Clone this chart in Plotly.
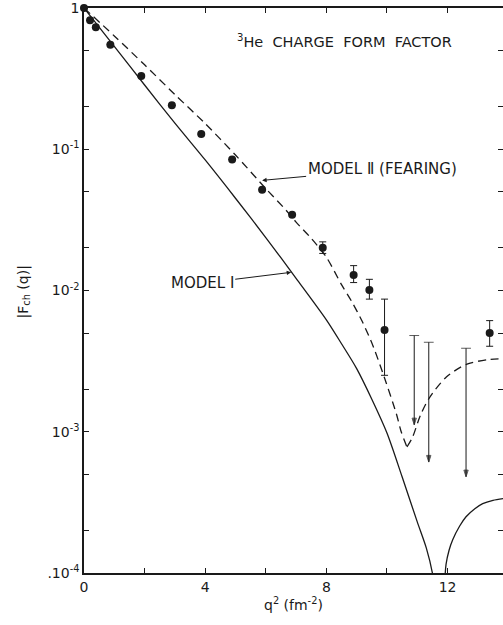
import numpy as np
import plotly.graph_objects as go

# Measured |F_ch| for 3He
q2_data = [0.0, 0.2, 0.39, 0.87, 1.89, 2.9, 3.87, 4.89, 5.88, 6.87, 7.88, 8.9, 9.42, 9.92, 13.39]
f_data = [1.0, 0.82, 0.73, 0.55, 0.33, 0.205, 0.128, 0.0845, 0.0517, 0.0344, 0.0201, 0.0129, 0.0101, 0.00525, 0.0050]
f_err_up = [0, 0, 0, 0, 0, 0, 0, 0, 0, 0, 0.0020, 0.0021, 0.0019, 0.00344, 0.00112]
f_err_dn = [0, 0, 0, 0, 0, 0, 0, 0, 0, 0, 0.0018, 0.00152, 0.00141, 0.00274, 0.00097]

# Upper limits (top of bar) and where the arrow stops
q2_lim = [10.9, 11.38, 12.61]
f_lim = [0.0048, 0.0043, 0.0039]
f_lim_arrow = [0.00112, 0.00061, 0.00048]

# Model I (solid), two lobes either side of the diffraction zero
q2_m1a = [0, 1, 2, 3, 4, 5, 6, 7, 8, 8.5, 9, 9.5, 10, 10.5, 11, 11.3, 11.5, 11.6]
f_m1a = [1.0, 0.535, 0.285, 0.153, 0.084, 0.045, 0.0237, 0.0122, 0.0062, 0.0042, 0.0028, 0.0017,
         0.00098, 0.00048, 0.00023, 0.00015, 0.0001, 0.00007]
q2_m1b = [11.9, 11.95, 12.05, 12.17, 12.4, 12.61, 12.9, 13.16, 13.5, 13.9]
f_m1b = [0.00008, 0.000115, 0.000145, 0.000172, 0.000215, 0.00025, 0.000285, 0.00031, 0.000327, 0.000338]

# Model II (Fearing), dashed
q2_m2 = [0, 1, 2, 3, 4, 5, 6, 6.67, 7, 7.5, 8, 8.5, 8.83, 9.19, 9.55, 9.92, 10.31, 10.47, 10.66,
         10.84, 11.1, 11.4, 11.96, 12.62, 13.38, 13.9]
f_m2 = [1.0, 0.634, 0.396, 0.244, 0.152, 0.091, 0.0527, 0.037, 0.0305, 0.0234, 0.0172, 0.011, 0.0084,
        0.0060, 0.0040, 0.0024, 0.00134, 0.00100, 0.00078, 0.00091, 0.0013, 0.00174, 0.00244,
        0.0030, 0.00325, 0.00329]

# Axis ticks
x_tickvals = [0, 2, 4, 6, 8, 10, 12]
x_ticktext = ["0", "", "4", "", "8", "", "12"]
y_tickvals = [m * 10.0 ** e for e in range(-4, 1) for m in (1, 2, 5) if m * 10.0 ** e <= 1]
y_labels = {1e-4: ".10<sup>-4</sup>", 1e-3: "10<sup>-3</sup>", 1e-2: "10<sup>-2</sup>",
            1e-1: "10<sup>-1</sup>", 1.0: "1"}
y_ticktext = [next((t for v, t in y_labels.items() if abs(np.log10(v) - np.log10(tv)) < 1e-6), "")
              for tv in y_tickvals]

INK = "#1a1a1a"
FONT = "DejaVu Sans"

fig = go.Figure()

curve = dict(color=INK, width=1.3, shape="spline", smoothing=0.8)
fig.add_trace(go.Scatter(x=q2_m1a, y=f_m1a, mode="lines", line=curve))
fig.add_trace(go.Scatter(x=q2_m1b, y=f_m1b, mode="lines", line=curve))

# Model II: split at its minimum so the cusp stays sharp
k = int(np.argmin(f_m2))
dashed = dict(curve, dash="8px,5px")
fig.add_trace(go.Scatter(x=q2_m2[:k + 1], y=f_m2[:k + 1], mode="lines", line=dashed))
fig.add_trace(go.Scatter(x=q2_m2[k:], y=f_m2[k:], mode="lines", line=dashed))

fig.add_trace(go.Scatter(
    x=q2_data, y=f_data, mode="markers", cliponaxis=False,
    marker=dict(symbol="circle", size=8, color=INK),
    error_y=dict(type="data", symmetric=False, array=f_err_up, arrayminus=f_err_dn,
                 color=INK, thickness=1, width=3.5),
))

# upper limits: capped stem with a downward arrow
lx, ly, lsym, lang = [], [], [], []
for q, top, end in zip(q2_lim, f_lim, f_lim_arrow):
    lx += [q, q, None]
    ly += [top, end, None]
    lsym += ["line-ew", "arrow", "circle"]
    lang += [0, 180, 0]
fig.add_trace(go.Scatter(
    x=lx, y=ly, mode="lines+markers",
    line=dict(color=INK, width=1),
    marker=dict(symbol=lsym, angle=lang, size=[7, 7, 0] * len(q2_lim), color=INK,
                line=dict(color=INK, width=1)),
))

# carries the inward ticks on the right edge
fig.add_trace(go.Scatter(x=[], y=[], yaxis="y2"))

fig.update_layout(
    width=503, height=625,
    margin=dict(l=84, r=0, t=5, b=52),
    paper_bgcolor="white", plot_bgcolor="white",
    showlegend=False,
    font=dict(family=FONT, color=INK, size=14),
    xaxis=dict(range=[0, 13.83], tickvals=x_tickvals, ticktext=x_ticktext,
               ticks="inside", ticklen=5, tickcolor=INK, showline=True, linecolor=INK,
               linewidth=1.5, mirror="ticks", showgrid=False, zeroline=False,
               ticklabeloverflow="allow", tickfont=dict(size=14, family=FONT)),
    yaxis=dict(type="log", range=[-4, 0], tickvals=y_tickvals, ticktext=y_ticktext,
               ticks="inside", ticklen=5, tickcolor=INK, showline=True, linecolor=INK,
               linewidth=1.5, showgrid=False, zeroline=False,
               ticklabeloverflow="allow", tickfont=dict(size=14, family=FONT)),
    yaxis2=dict(type="log", range=[-4, 0], overlaying="y", side="right",
                tickvals=y_tickvals, ticks="inside", ticklen=5, tickcolor=INK,
                showticklabels=False, showline=False, showgrid=False, zeroline=False),
)

annotations = [
    dict(text="<sup>3</sup>He  CHARGE  FORM  FACTOR", xref="paper", yref="paper",
         x=(344 - 84) / 419, y=1 - (38 - 5) / 568, xanchor="center", yanchor="middle",
         showarrow=False, font=dict(size=14.5, family=FONT)),
    dict(text="MODEL Ⅱ (FEARING)", x=5.88, y=np.log10(0.0602), xref="x", yref="y",
         ax=120, ay=-11, showarrow=True, arrowhead=2, arrowsize=0.9, arrowwidth=1,
         arrowcolor=INK, font=dict(size=15, family=FONT)),
    dict(text="MODEL Ⅰ", x=6.84, y=np.log10(0.01345), xref="x", yref="y",
         ax=-89, ay=11, showarrow=True, arrowhead=2, arrowsize=0.9, arrowwidth=1,
         arrowcolor=INK, font=dict(size=15, family=FONT)),
    dict(text="|F<sub>ch</sub> (q)|", xref="paper", yref="paper",
         x=(24 - 84) / 419, y=1 - (291 - 5) / 568, xanchor="center", yanchor="middle",
         textangle=-90, showarrow=False, font=dict(size=14, family=FONT)),
    dict(text="q<sup>2</sup> (fm<sup>-2</sup>)", xref="paper", yref="paper",
         x=(293 - 84) / 419, y=1 - (604 - 5) / 568, xanchor="center", yanchor="middle",
         showarrow=False, font=dict(size=14, family=FONT)),
]
fig.update_layout(annotations=annotations)

fig.write_html("out.html")
